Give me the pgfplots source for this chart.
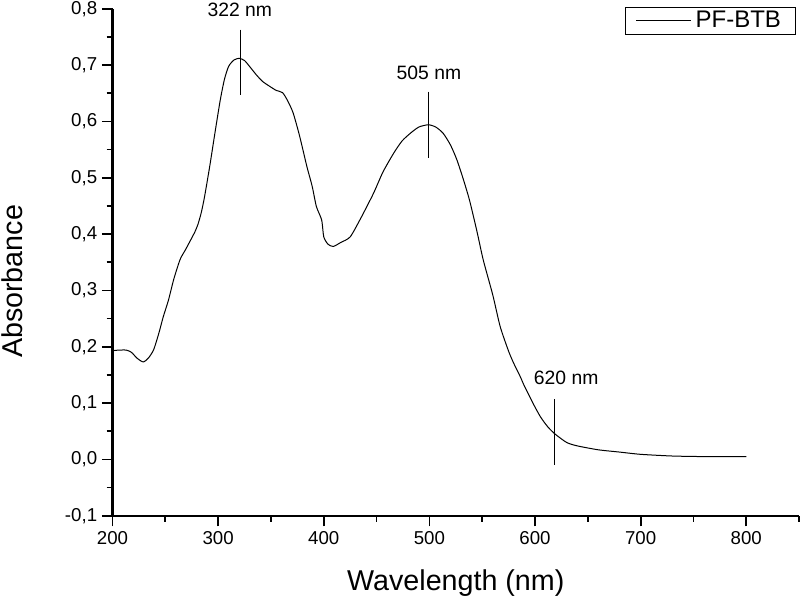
\documentclass[border=0pt]{standalone}
\usepackage{fontspec}
\setmainfont{Liberation Sans}
\usepackage{pgfplots}
\pgfplotsset{compat=1.18}

\pgfplotstableread{
lambda A
200 0.193
206 0.194
213 0.194
218 0.190
223 0.180
229 0.173
234 0.180
239 0.195
244 0.225
248 0.253
253 0.283
258 0.320
264 0.355
269 0.372
273 0.386
278 0.404
281 0.418
284 0.438
287 0.465
292 0.520
297 0.580
302 0.638
306 0.675
310 0.698
315 0.709
320 0.712
325 0.708
330 0.697
336 0.683
342 0.671
349 0.662
355 0.655
361 0.651
366 0.636
371 0.615
377 0.575
384 0.520
389 0.485
393 0.449
398 0.425
400 0.395
404 0.382
409 0.378
416 0.385
425 0.395
435 0.428
447 0.472
456 0.510
466 0.543
474 0.565
482 0.579
490 0.590
499 0.594
506 0.590
513 0.579
520 0.558
526 0.532
532 0.498
538 0.460
545 0.405
551 0.354
560 0.292
567 0.236
575 0.192
580 0.170
586 0.147
590 0.130
598 0.100
605 0.076
612 0.058
619 0.045
630 0.030
640 0.024
660 0.017
680 0.013
700 0.009
730 0.006
760 0.005
800 0.005
}\spectrum

\begin{document}
\begin{tikzpicture}
\begin{axis}[
    scale only axis,
    width=514.9pt, height=380.25pt,
    xmin=200, xmax=850,
    ymin=-0.1, ymax=0.8,
    axis lines*=left,
    x axis line style={line width=1.6pt},
    y axis line style={line width=1.6pt},
    tick align=outside,
    major tick length=8pt,
    minor tick length=4.5pt,
    every tick/.append style={black, line width=1.3pt},
    xtick={200,300,...,800},
    minor xtick={250,350,...,850},
    ytick={-0.1,0,0.1,0.2,0.3,0.4,0.5,0.6,0.7,0.8},
    minor ytick={-0.05,0.05,0.15,0.25,0.35,0.45,0.55,0.65,0.75},
    xticklabel style={font=\fontsize{14}{16}\selectfont,
        /pgf/number format/precision=0, /pgf/number format/assume math mode=true},
    yticklabel style={font=\fontsize{14}{16}\selectfont,
        /pgf/number format/use comma, /pgf/number format/fixed,
        /pgf/number format/fixed zerofill, /pgf/number format/precision=1,
        /pgf/number format/assume math mode=true},
    xlabel={Wavelength (nm)},
    ylabel={Absorbance},
    xlabel style={font=\fontsize{21.5}{24}\selectfont, at={(axis description cs:0.5,-0.133)}, anchor=center},
    ylabel style={font=\fontsize{21.5}{24}\selectfont, at={(axis description cs:-0.146,0.462)}, anchor=center},
    legend style={at={(axis description cs:0.9956,1.0033)}, anchor=north east,
        draw=black, line width=0.6pt, font=\fontsize{18}{20}\selectfont,
        inner xsep=8pt, inner ysep=1pt, legend cell align=left,
        nodes={inner xsep=3pt}},
    legend image post style={line width=0.6pt},
    legend image code/.code={\draw[#1] (0cm,0cm) -- (1.45cm,0cm);},
    clip=false,
]
\addplot[black, line width=0.75pt, smooth, tension=0.4] table[x=lambda, y=A] {\spectrum};
\addlegendentry{PF-BTB}
\coordinate (O) at (rel axis cs:0,0);
\draw[line width=0.75pt] (axis cs:320.7,0.763) -- (axis cs:320.7,0.647);
\draw[line width=0.75pt] (axis cs:499.6,0.653) -- (axis cs:499.6,0.535);
\draw[line width=0.75pt] (axis cs:618.8,0.1066) -- (axis cs:618.8,-0.010);
\node[font=\fontsize{14.5}{16}\selectfont] at (axis cs:320.5,0.798) {322 nm};
\node[font=\fontsize{14.5}{16}\selectfont] at (axis cs:499.6,0.686) {505 nm};
\node[font=\fontsize{14.5}{16}\selectfont] at (axis cs:629.5,0.1444) {620 nm};
\end{axis}
\pgfresetboundingbox
\path[use as bounding box] ([shift={(-84.4pt,-61.7pt)}]O) rectangle ([shift={(515.6pt,386.8pt)}]O);
\end{tikzpicture}
\end{document}
